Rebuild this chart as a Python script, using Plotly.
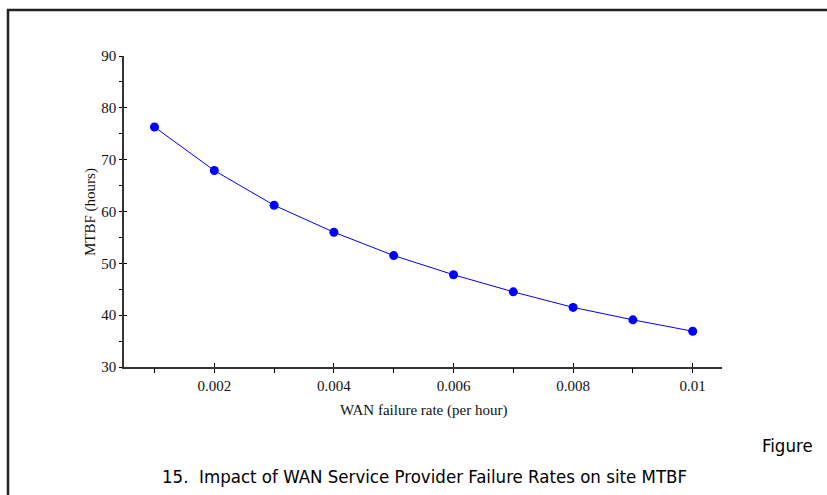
import plotly.graph_objects as go

# Data
wan_rate = [0.001, 0.002, 0.003, 0.004, 0.005, 0.006, 0.007, 0.008, 0.009, 0.01]
mtbf = [76.3, 67.9, 61.2, 56.0, 51.5, 47.8, 44.5, 41.5, 39.1, 36.9]
x_tickvals = [0.002, 0.004, 0.006, 0.008, 0.01]
x_ticktext = ["0.002", "0.004", "0.006", "0.008", "0.01"]
y_tickvals = [30, 40, 50, 60, 70, 80, 90]

W, H = 827, 495
L, R, T, B = 124, 105, 56, 128
pw = W - L - R
ph = H - T - B

def px_to_paper_x(px):
    return (px - L) / pw

def py_to_paper_y(py):
    return (H - B - py) / ph

serif = "Liberation Serif"
narrow = "DejaVu Sans Condensed, Liberation Sans Narrow, Arial Narrow, sans-serif"
txt = "#111"
fig = go.Figure()
fig.add_trace(go.Scatter(
    x=wan_rate, y=mtbf, mode="lines+markers",
    line=dict(color="#0000ff", width=1),
    marker=dict(color="#0000ff", size=9),
    showlegend=False, cliponaxis=False,
))
fig.add_trace(go.Scatter(x=wan_rate, y=mtbf, xaxis="x2", yaxis="y2",
                         mode="markers", marker=dict(opacity=0), showlegend=False,
                         hoverinfo="skip"))

xr = [0.00049, 0.01049]
yr = [30, 90]
common_x = dict(range=xr, showgrid=False, zeroline=False, tickvals=x_tickvals,
                ticktext=x_ticktext, ticklen=4, tickwidth=1, tickcolor="#000",
                minor=dict(tickvals=[0.001, 0.003, 0.005, 0.007, 0.009], ticklen=4,
                           tickwidth=1, tickcolor="#000"))
common_y = dict(range=yr, showgrid=False, zeroline=False, tickvals=y_tickvals,
                ticklen=3, tickwidth=1, tickcolor="#000",
                minor=dict(tickvals=[35, 45, 55, 65, 75, 85], ticklen=3,
                           tickwidth=1, tickcolor="#000"))

fig.update_layout(
    width=W, height=H,
    margin=dict(l=L, r=R, t=T, b=B),
    paper_bgcolor="white", plot_bgcolor="white",
    font=dict(family=serif, size=15, color=txt),
    xaxis=dict(**common_x, ticks="outside", showline=True, linecolor="#333", linewidth=1.5,
               tickfont=dict(family=serif, size=15, color=txt)),
    yaxis=dict(**common_y, ticks="outside", showline=True, linecolor="#333", linewidth=1.5,
               tickfont=dict(family=serif, size=15, color=txt)),
    xaxis2=dict(**common_x, ticks="inside", overlaying="x", showticklabels=False,
                showline=False, anchor="y2"),
    yaxis2=dict(**common_y, ticks="inside", overlaying="y", showticklabels=False,
                showline=False, anchor="x2"),
    annotations=[
        dict(text="WAN failure rate (per hour)", xref="paper", yref="paper",
             x=0.5, y=py_to_paper_y(410), xanchor="center", yanchor="middle",
             showarrow=False, font=dict(family=serif, size=15, color=txt)),
        dict(text="MTBF (hours)", xref="paper", yref="paper",
             x=px_to_paper_x(90), y=py_to_paper_y(212), textangle=-90,
             xanchor="center", yanchor="middle",
             showarrow=False, font=dict(family=serif, size=15, color=txt)),
        dict(text="Figure", xref="paper", yref="paper",
             x=px_to_paper_x(815), y=py_to_paper_y(445), xanchor="right", yanchor="middle",
             showarrow=False, font=dict(family=narrow, size=18.5, color="#000")),
        dict(text="15.  Impact of WAN Service Provider Failure Rates on site MTBF",
             xref="paper", yref="paper",
             x=px_to_paper_x(424), y=py_to_paper_y(476), xanchor="center", yanchor="middle",
             showarrow=False, font=dict(family=narrow, size=18.5, color="#000")),
    ],
    shapes=[
        dict(type="line", xref="paper", yref="paper",
             x0=px_to_paper_x(7), x1=px_to_paper_x(830),
             y0=py_to_paper_y(10), y1=py_to_paper_y(10),
             line=dict(color="#222", width=2.5)),
        dict(type="line", xref="paper", yref="paper",
             x0=px_to_paper_x(8), x1=px_to_paper_x(8),
             y0=py_to_paper_y(9), y1=py_to_paper_y(500),
             line=dict(color="#222", width=2.5)),
    ],
)

fig.write_html("out.html")
